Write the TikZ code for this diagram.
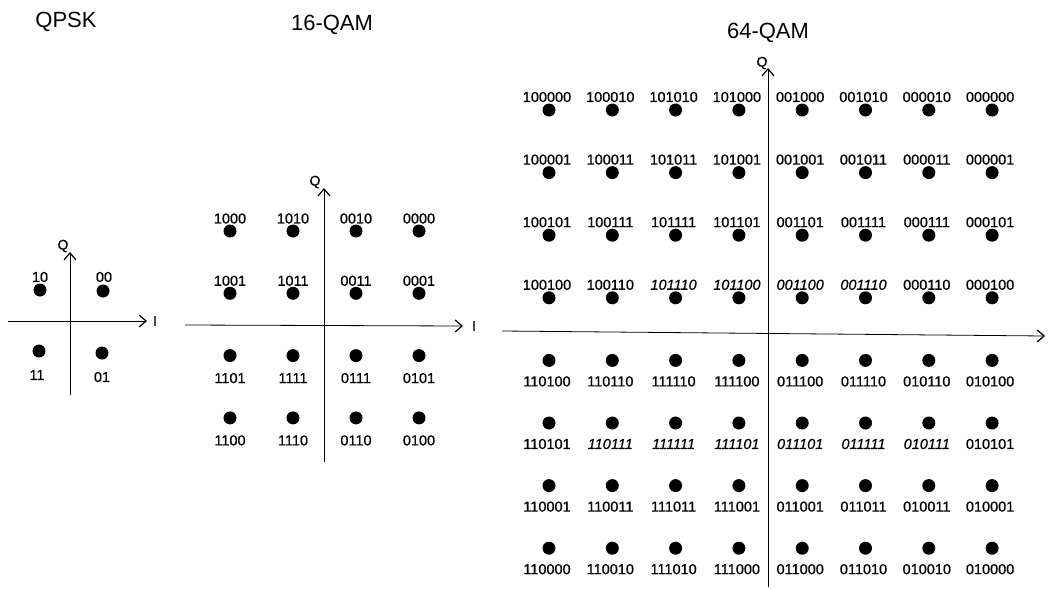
\documentclass[tikz,border=0pt]{standalone}
\usepackage{fontspec}
\setmainfont{Liberation Sans}
\newfontfamily\labfont[FakeBold=0.6]{Liberation Sans}
\usetikzlibrary{arrows.meta,calc}
\tikzset{
  dot/.style={circle,fill=black,minimum size=13pt,inner sep=0pt},
  labn/.style={font=\labfont\fontsize{14.5}{15}\selectfont,inner sep=0pt},
  labi/.style={font=\labfont\fontsize{14.5}{15}\selectfont\itshape,inner sep=0pt},
  ttl/.style={font=\fontsize{22}{24}\selectfont,inner sep=0pt},
  axis/.style={line width=0.8pt,-{Straight Barb[length=7pt,width=12pt,line width=1.2pt]}},
  axlab/.style={font=\labfont\fontsize{14}{15}\selectfont,inner sep=0pt}
}
\begin{document}
\begin{tikzpicture}[x=1pt,y=-1pt]
\useasboundingbox (0,0) rectangle (1048,589);

% ---------------- QPSK ----------------
\node[ttl] (tqpsk) at (66,22) {QPSK};
\coordinate (qxl) at (8,321);
\coordinate (qxr) at (147,321);
\coordinate (qyb) at (70,395);
\coordinate (qyt) at (70,252);
\draw[axis] (qxl) -- (qxr);
\draw[axis] (qyb) -- (qyt);
\node[axlab] (qI) at (155,321) {I};
\node[axlab] (qQ) at (63,246) {Q};
\node[dot] (q10) at (40,290) {};
\node[dot] (q00) at (103,291) {};
\node[dot] (q11) at (39,351) {};
\node[dot] (q01) at (102,353) {};
\node[labn] (lq10) at (40,277) {10};
\node[labn] (lq00) at (104,277) {00};
\node[labn] (lq11) at (37,375) {11};
\node[labn] (lq01) at (102,377) {01};

% ---------------- 16-QAM ----------------
\node[ttl] (t16) at (332,25) {16-QAM};
\coordinate (axl16) at (185,325);
\coordinate (axr16) at (463,326);
\coordinate (ayb16) at (324,462);
\coordinate (ayt16) at (324,188);
\draw[axis] (axl16) -- (axr16);
\draw[axis] (ayb16) -- (ayt16);
\node[axlab] (I16) at (474,326) {I};
\node[axlab] (Q16) at (315,182) {Q};
\foreach \r/\row in {
  1/{1000,1010,0010,0000},
  2/{1001,1011,0011,0001},
  3/{1101,1111,0111,0101},
  4/{1100,1110,0110,0100}}{
  \foreach \t [count=\c] in \row {
    \pgfmathsetmacro\xx{230+63*(\c-1)}
    \pgfmathsetmacro\yy{231+62.3*(\r-1)}
    \pgfmathsetmacro\ly{\r<3 ? \yy-12.5 : \yy+22.5}
    \node[dot] (d16-\r-\c) at (\xx,\yy) {};
    \node[labn] (l16-\r-\c) at (\xx,\ly) {\t};
  }
}

% ---------------- 64-QAM ----------------
\node[ttl] (t64) at (768,33) {64-QAM};
\coordinate (axl64) at (502,331);
\coordinate (axr64) at (1045,336);
\coordinate (ayb64) at (768,587);
\coordinate (ayt64) at (768,68);
\draw[axis] (axl64) -- (axr64);
\draw[axis] (ayb64) -- (ayt64);
\node[axlab] (Q64) at (762,63) {Q};
\foreach \r/\row in {
  1/{100000/n,100010/n,101010/n,101000/n,001000/n,001010/n,000010/n,000000/n},
  2/{100001/n,100011/n,101011/n,101001/n,001001/n,001011/n,000011/n,000001/n},
  3/{100101/n,100111/n,101111/n,101101/n,001101/n,001111/n,000111/n,000101/n},
  4/{100100/n,100110/n,101110/i,101100/i,001100/i,001110/i,000110/n,000100/n},
  5/{110100/n,110110/n,111110/n,111100/n,011100/n,011110/n,010110/n,010100/n},
  6/{110101/n,110111/i,111111/i,111101/i,011101/i,011111/i,010111/i,010101/n},
  7/{110001/n,110011/n,111011/n,111001/n,011001/n,011011/n,010011/n,010001/n},
  8/{110000/n,110010/n,111010/n,111000/n,011000/n,011010/n,010010/n,010000/n}}{
  \foreach \t/\s [count=\c] in \row {
    \pgfmathsetmacro\xx{549+63.3*(\c-1)}
    \pgfmathsetmacro\yy{110+62.6*(\r-1)}
    \pgfmathsetmacro\ly{\r<5 ? \yy-13 : \yy+21}
    \pgfmathsetmacro\lx{\xx-2}
    \node[dot] (d64-\r-\c) at (\xx,\yy) {};
    \node[lab\s] (l64-\r-\c) at (\lx,\ly) {\t};
  }
}
\end{tikzpicture}
\end{document}
